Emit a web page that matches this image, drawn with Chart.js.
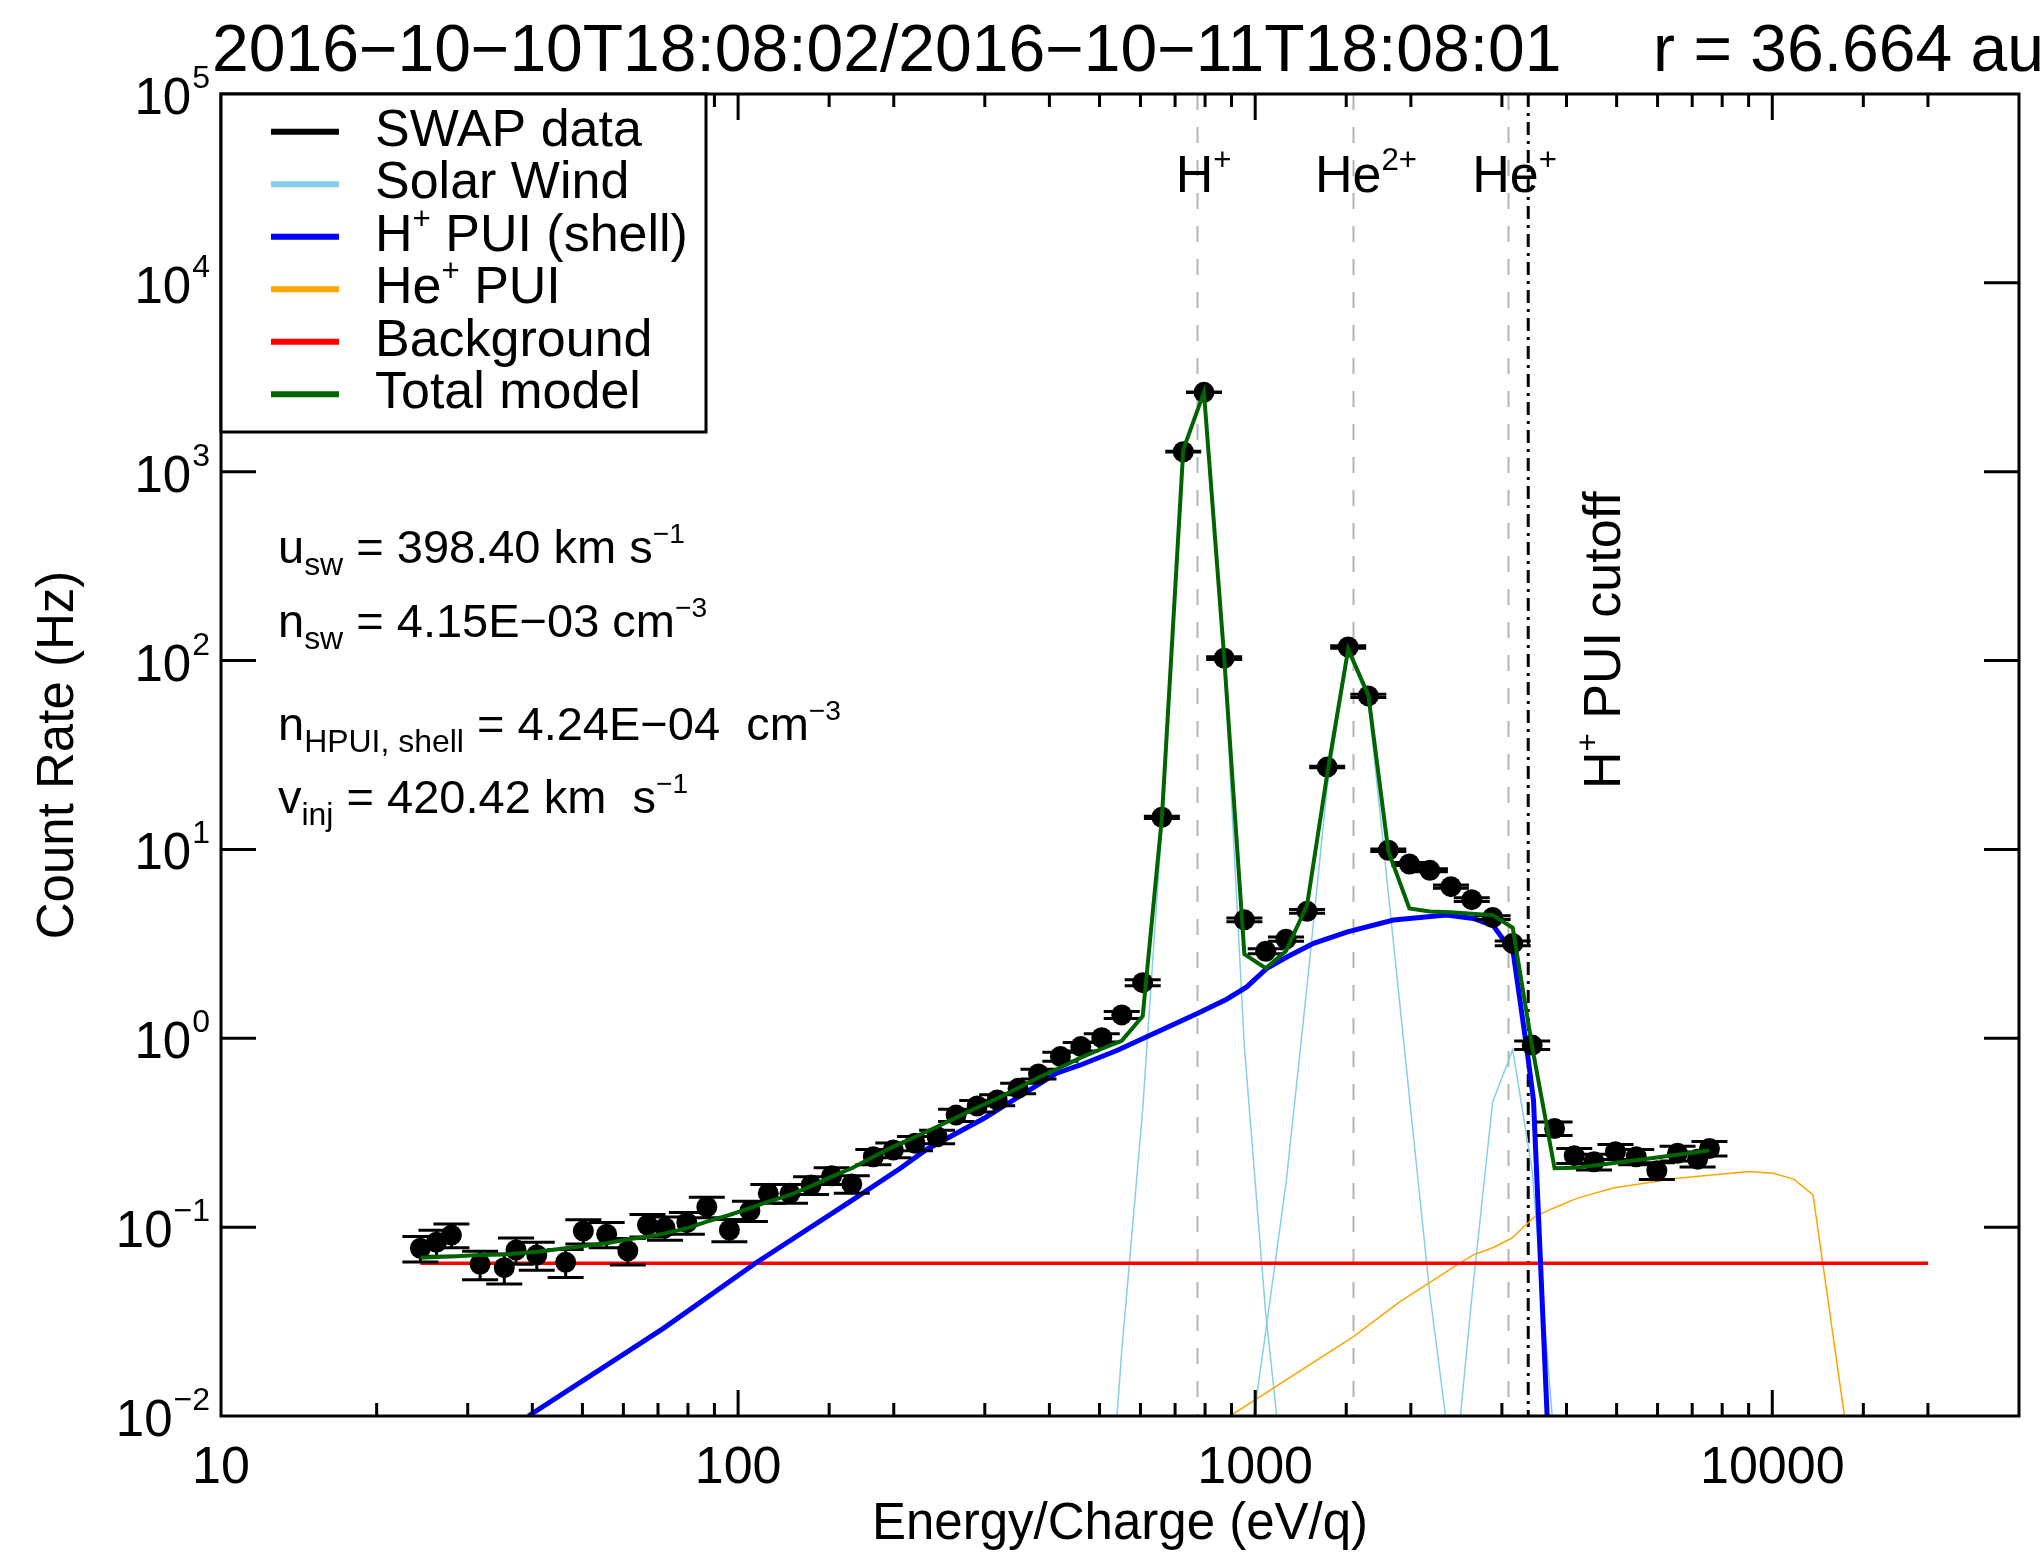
<!DOCTYPE html>
<html>
<head>
<meta charset="utf-8">
<script src="https://cdn.jsdelivr.net/npm/chart.js@4.4.1/dist/chart.umd.min.js"></script>
<style>
  html, body { margin: 0; padding: 0; background: #fff; }
</style>
</head>
<body>
<canvas id="swapChart" width="2040" height="1553"></canvas>
<script>
// SWAP count-rate spectrum

const energyData = [
  24.3, 26.1, 27.9, 31.7, 35.3, 37.2, 40.8, 46.4, 50.2, 55.7,
  61.2, 66.8, 72.2, 79.6, 87.0, 96.2, 105.4, 114.4, 126.0, 138.4,
  151.7, 165.9, 182.6, 199.6, 219.8, 242.6, 264, 290, 317, 348,
  381, 420, 460, 505, 552, 606, 660, 726, 796, 871,
  953, 1048, 1147, 1260, 1378, 1513, 1655, 1809, 1987, 2177,
  2391, 2623, 2879, 3148, 3433, 3793, 4140, 4521, 4975, 5456,
  5981, 6558, 7170, 7560
];
const rateData = [
  0.0773, 0.0832, 0.0908, 0.0636, 0.0610, 0.0757, 0.0712, 0.0652, 0.0954, 0.0917,
  0.0750, 0.1026, 0.0993, 0.1056, 0.128, 0.0966, 0.122, 0.151, 0.151, 0.167,
  0.187, 0.169, 0.236, 0.256, 0.278, 0.301, 0.392, 0.438, 0.471, 0.543,
  0.647, 0.800, 0.904, 1.007, 1.33, 1.97, 14.8, 1276, 2633, 103,
  4.24, 2.89, 3.35, 4.70, 27.3, 118, 65, 9.9, 8.37, 7.75,
  6.35, 5.42, 4.36, 3.18, 0.92, 0.333, 0.239, 0.222, 0.251, 0.236,
  0.199, 0.246, 0.229, 0.261
];
const rateErr = [
  0.012, 0.013, 0.013, 0.011, 0.011, 0.012, 0.012, 0.011, 0.014, 0.014,
  0.012, 0.014, 0.014, 0.014, 0.016, 0.013, 0.015, 0.017, 0.017, 0.018,
  0.019, 0.018, 0.022, 0.023, 0.024, 0.025, 0.029, 0.031, 0.032, 0.035,
  0.039, 0.044, 0.047, 0.050, 0.058, 0.070, 0.20, 6, 9, 1.7,
  0.10, 0.085, 0.09, 0.11, 0.27, 1.8, 1.3, 0.16, 0.15, 0.14,
  0.13, 0.12, 0.10, 0.09, 0.048, 0.027, 0.022, 0.021, 0.023, 0.022,
  0.020, 0.022, 0.021, 0.023
];
// total model, evaluated at the data energies
const totalModel = [
  0.0689, 0.0695, 0.0700, 0.0712, 0.0716, 0.0725, 0.0741, 0.0773, 0.0795, 0.0822,
  0.0863, 0.0890, 0.0927, 0.0986, 0.107, 0.116, 0.126, 0.1365, 0.148, 0.165,
  0.185, 0.205, 0.236, 0.267, 0.300, 0.340, 0.380, 0.430, 0.480, 0.545,
  0.620, 0.700, 0.790, 0.880, 0.970, 1.31, 14.7, 1310, 2630, 104,
  2.79, 2.35, 2.90, 5.08, 25, 115, 65.6, 9.8, 4.87, 4.69,
  4.65, 4.56, 4.49, 3.85, 0.90, 0.205, 0.206, 0.212, 0.219, 0.226,
  0.234, 0.242, 0.250, 0.255
];

// H+ PUI (shell)
const puiEnergy = [39.3, 71.7, 108, 164.6, 206, 231, 299, 413, 458, 543, 617, 771, 881, 963,
  1054, 1154, 1297, 1508, 1851, 2344, 2641, 2886, 3156, 3354, 3453, 3690];
const puiRate = [0.01, 0.0291, 0.0644, 0.1365, 0.205, 0.257, 0.377, 0.653, 0.72, 0.867, 1.02, 1.35, 1.61, 1.87,
  2.35, 2.7, 3.18, 3.66, 4.23, 4.49, 4.31, 3.95, 2.82, 0.87, 0.47, 0.007];

// He+ PUI
const hePuiEnergy = [894, 1549, 1906, 2453, 2641, 2887, 3131, 3470, 3772, 4185, 4925, 6483, 9020, 10050, 11020, 11990, 13950];
const hePuiRate = [0.01, 0.0263, 0.0403, 0.063, 0.0713, 0.078, 0.0873, 0.1135, 0.126, 0.142, 0.161, 0.181, 0.197, 0.193, 0.179, 0.148, 0.008];

// background
const bgEnergy = [24.3, 20000];
const bgRate = [0.0644, 0.0644];

// solar wind components (H+, He2+, He+)
const swHEnergy = [505, 552, 606, 660, 726, 796, 871, 953, 1048, 1147, 1260];
const swHRate = [0.0008, 0.022, 0.42, 13.5, 1305, 2625, 102, 0.9, 0.035, 0.0035, 0.0002];
const swHe2Energy = [953, 1048, 1147, 1260, 1378, 1513, 1655, 1809, 1987, 2177, 2391];
const swHe2Rate = [0.0043, 0.028, 0.17, 1.9, 21.5, 111, 61.5, 5.9, 0.49, 0.044, 0.006];
const swHe1Energy = [2391, 2623, 2879, 3148, 3433, 3793];
const swHe1Rate = [0.003, 0.042, 0.46, 0.87, 0.2, 0.007];

// expected peak energies and cutoff
const ionLineEnergy = [771, 1544, 3078];
const ionLabels = [[['H'], ['+', 1]], [['He'], ['2+', 1]], [['He'], ['+', 1]]];
const cutoffEnergy = 3373;

const xTickValues = [10, 100, 1000, 10000];
const xTickLabels = ['10', '100', '1000', '10000'];
const yTickValues = [1e-2, 1e-1, 1e0, 1e1, 1e2, 1e3, 1e4, 1e5];
const yTickExponents = ['\u22122', '\u22121', '0', '1', '2', '3', '4', '5'];

const titleText = '2016\u221210\u221210T18:08:02/2016\u221210\u221211T18:08:01     r = 36.664 au';
const fitText = [
  [['u'], ['sw', -1], [' = 398.40 km s'], ['\u22121', 1]],
  [['n'], ['sw', -1], [' = 4.15E\u221203 cm'], ['\u22123', 1]],
  [['n'], ['HPUI, shell', -1], [' = 4.24E\u221204  cm'], ['\u22123', 1]],
  [['v'], ['inj', -1], [' = 420.42 km  s'], ['\u22121', 1]]
];
const fitTextY = [563, 637, 740, 813];

const legendItems = [
  { parts: [['SWAP data']], color: '#000000' },
  { parts: [['Solar Wind']], color: '#87ceeb' },
  { parts: [['H'], ['+', 1], [' PUI (shell)']], color: '#0000ff' },
  { parts: [['He'], ['+', 1], [' PUI']], color: '#ffa500' },
  { parts: [['Background']], color: '#ff0000' },
  { parts: [['Total model']], color: '#006400' }
];

const fontFamily = '"Liberation Sans", Arial, Helvetica, sans-serif';

function pts(xs, ys) {
  return xs.map((x, i) => ({ x: x, y: ys[i] }));
}

function setFont(ctx, size) {
  ctx.font = size + 'px ' + fontFamily;
}

// draw text with sup (1) / sub (-1) pieces, returns width
function drawRich(ctx, parts, x, y, size, align) {
  const sizes = parts.map(p => p[1] ? size * (p[1] > 0 ? 0.6 : 0.68) : size);
  const widths = parts.map((p, i) => { setFont(ctx, sizes[i]); return ctx.measureText(p[0]).width; });
  const total = widths.reduce((a, b) => a + b, 0);
  let cx = x;
  if (align === 'center') cx = x - total / 2;
  else if (align === 'right') cx = x - total;
  else if (align === 'base') {
    // centre mostly on the normal-size text
    let base = 0, sup = 0;
    widths.forEach((w, i) => { if (parts[i][1]) sup += w; else base += w; });
    cx = x - (base + sup * 0.25) / 2;
  }
  ctx.textAlign = 'left';
  ctx.textBaseline = 'alphabetic';
  parts.forEach((p, i) => {
    setFont(ctx, sizes[i]);
    const dy = p[1] > 0 ? -size * 0.42 : p[1] < 0 ? size * 0.25 : 0;
    ctx.fillText(p[0], cx, y + dy);
    cx += widths[i];
  });
  return total;
}

const swapDecor = {
  id: 'swapDecor',
  beforeDatasetsDraw(chart) {
    const { ctx, chartArea: a, scales: { x } } = chart;
    ctx.save();
    ctx.beginPath();
    ctx.rect(a.left, a.top, a.right - a.left, a.bottom - a.top);
    ctx.clip();
    ctx.strokeStyle = '#b4b4b4';
    ctx.lineWidth = 2;
    ctx.setLineDash([16, 17]);
    ionLineEnergy.forEach(e => {
      const px = Math.round(x.getPixelForValue(e)) + 0.5;
      ctx.beginPath();
      ctx.moveTo(px, a.top);
      ctx.lineTo(px, a.bottom);
      ctx.stroke();
    });
    ctx.strokeStyle = '#000';
    ctx.lineWidth = 3;
    ctx.setLineDash([13, 6, 3, 6]);
    const cx = x.getPixelForValue(cutoffEnergy);
    ctx.beginPath();
    ctx.moveTo(cx, a.top);
    ctx.lineTo(cx, a.bottom);
    ctx.stroke();
    ctx.restore();
  },
  afterDatasetDraw(chart, args) {
    if (args.index !== 0) return;
    const { ctx, scales: { x, y } } = chart;
    ctx.save();
    ctx.strokeStyle = '#000';
    ctx.lineWidth = 3;
    energyData.forEach((e, i) => {
      const px = x.getPixelForValue(e);
      const top = y.getPixelForValue(rateData[i] + rateErr[i]);
      const bot = y.getPixelForValue(rateData[i] - rateErr[i]);
      ctx.beginPath();
      ctx.moveTo(px, top);
      ctx.lineTo(px, bot);
      ctx.moveTo(px - 18, top);
      ctx.lineTo(px + 18, top);
      ctx.moveTo(px - 18, bot);
      ctx.lineTo(px + 18, bot);
      ctx.stroke();
    });
    ctx.restore();
  },
  afterDatasetsDraw(chart) {
    const { ctx, scales: { x } } = chart;
    ctx.save();
    ctx.fillStyle = '#000';
    ionLineEnergy.forEach((e, i) => {
      drawRich(ctx, ionLabels[i], x.getPixelForValue(e), 192, 52, 'base');
    });
    // cutoff label, rotated
    ctx.save();
    ctx.translate(1620, 789);
    ctx.rotate(-Math.PI / 2);
    drawRich(ctx, [['H'], ['+', 1], [' PUI cutoff']], 0, 0, 52, 'left');
    ctx.restore();
    fitText.forEach((parts, i) => drawRich(ctx, parts, 278, fitTextY[i], 47, 'left'));
    ctx.restore();
  },
  afterDraw(chart) {
    const { ctx, chartArea: a, scales: { x, y } } = chart;
    ctx.save();
    ctx.strokeStyle = '#000';
    ctx.fillStyle = '#000';
    ctx.lineWidth = 3;
    ctx.setLineDash([]);

    // ticks, inside the box on all four sides
    ctx.beginPath();
    x.ticks.forEach(t => {
      const v = t.value;
      if (v <= x.min || v >= x.max) return;
      const lg = Math.log10(v);
      const len = Math.abs(lg - Math.round(lg)) < 1e-6 ? 26 : 13;
      const px = x.getPixelForValue(v);
      ctx.moveTo(px, a.bottom);
      ctx.lineTo(px, a.bottom - len);
      ctx.moveTo(px, a.top);
      ctx.lineTo(px, a.top + len);
    });
    yTickValues.forEach(v => {
      if (v <= y.min || v >= y.max) return;
      const py = y.getPixelForValue(v);
      ctx.moveTo(a.left, py);
      ctx.lineTo(a.left + 35, py);
      ctx.moveTo(a.right, py);
      ctx.lineTo(a.right - 35, py);
    });
    ctx.stroke();

    // frame
    ctx.strokeRect(a.left, a.top, a.right - a.left, a.bottom - a.top);

    // x tick labels
    setFont(ctx, 52);
    ctx.textAlign = 'center';
    ctx.textBaseline = 'alphabetic';
    xTickValues.forEach((v, i) => ctx.fillText(xTickLabels[i], x.getPixelForValue(v), 1483));

    // y tick labels: 10 with raised exponent
    yTickValues.forEach((v, i) => {
      const py = y.getPixelForValue(v);
      setFont(ctx, 32);
      ctx.textAlign = 'right';
      ctx.fillText(yTickExponents[i], 210, py - 6);
      const ew = ctx.measureText(yTickExponents[i]).width;
      setFont(ctx, 51);
      ctx.fillText('10', 210 - ew - 1, py + 20);
    });

    // axis titles
    setFont(ctx, 51);
    ctx.textAlign = 'center';
    ctx.fillText('Energy/Charge (eV/q)', (a.left + a.right) / 2, 1539);
    ctx.save();
    ctx.translate(73, (a.top + a.bottom) / 2);
    ctx.rotate(-Math.PI / 2);
    ctx.fillText('Count Rate (Hz)', 0, 0);
    ctx.restore();

    // title
    setFont(ctx, 66);
    ctx.fillText(titleText, (a.left + a.right) / 2 + 8, 71);

    // legend box
    ctx.fillStyle = '#fff';
    ctx.fillRect(a.left, a.top, 485, 338);
    ctx.strokeRect(a.left, a.top, 485, 338);
    legendItems.forEach((item, i) => {
      const ly = 131.7 + i * 52.5;
      ctx.strokeStyle = item.color;
      ctx.lineWidth = 6;
      ctx.beginPath();
      ctx.moveTo(271, ly);
      ctx.lineTo(339, ly);
      ctx.stroke();
      ctx.fillStyle = '#000';
      drawRich(ctx, item.parts, 375, ly + 14, 52, 'left');
    });
    ctx.restore();
  }
};

const ctx = document.getElementById('swapChart').getContext('2d');

const lineSet = (label, xs, ys, color, width, order) => ({
  label: label,
  data: pts(xs, ys),
  showLine: true,
  borderColor: color,
  backgroundColor: color,
  borderWidth: width,
  pointRadius: 0,
  tension: 0,
  clip: 0,
  order: order
});

const swapChart = new Chart(ctx, {
  type: 'scatter',
  data: {
    datasets: [
      {
        label: 'SWAP data',
        data: pts(energyData, rateData),
        pointRadius: 10.5,
        pointBackgroundColor: '#000',
        pointBorderColor: '#000',
        pointBorderWidth: 0,
        showLine: false,
        order: 1
      },
      lineSet('Total model', energyData, totalModel, '#006400', 4, 0),
      lineSet('H+ PUI (shell)', puiEnergy, puiRate, '#0000ff', 5, 2),
      lineSet('Background', bgEnergy, bgRate, '#ff0000', 3.5, 3),
      lineSet('He+ PUI', hePuiEnergy, hePuiRate, '#ffa500', 1.5, 4),
      lineSet('Solar Wind', swHEnergy, swHRate, '#87ceeb', 1.5, 5),
      lineSet('Solar Wind He2+', swHe2Energy, swHe2Rate, '#87ceeb', 1.5, 6),
      lineSet('Solar Wind He+', swHe1Energy, swHe1Rate, '#87ceeb', 1.5, 7)
    ]
  },
  options: {
    responsive: false,
    animation: false,
    devicePixelRatio: 1,
    layout: { padding: { left: 221, right: 21, top: 94, bottom: 137 } },
    plugins: {
      legend: { display: false },
      tooltip: { enabled: false },
      title: { display: false }
    },
    scales: {
      x: {
        type: 'logarithmic',
        min: 10,
        max: 30000,
        grid: { display: false },
        border: { display: false },
        ticks: { display: false },
        afterFit: s => { s.height = 0; }
      },
      y: {
        type: 'logarithmic',
        min: 0.01,
        max: 1e5,
        grid: { display: false },
        border: { display: false },
        ticks: { display: false },
        afterFit: s => { s.width = 0; }
      }
    }
  },
  plugins: [swapDecor]
});
</script>
</body>
</html>
